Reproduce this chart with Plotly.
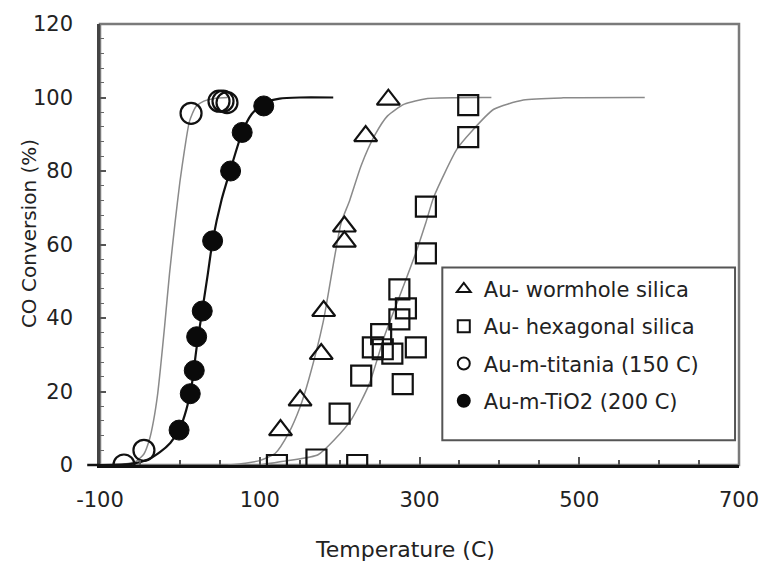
import plotly.graph_objects as go

# ---- data ----
tri_x = [126, 150.5, 177, 180, 206, 206, 232.6, 261]
tri_y = [9.5, 17.6, 30.2, 41.9, 60.8, 64.9, 89.5, 99.4]

sq_x = [121.5, 171, 222, 200, 227, 241.6, 254, 252, 266, 279, 274.8, 283, 274.8, 295.4, 308, 308, 361, 361]
sq_y = [0, 1.5, 0, 14, 24.3, 32, 31.5, 35.6, 30.3, 22, 47.8, 42.6, 39.6, 32, 57.6, 70.3, 89.2, 97.9]

oc_x = [-70, -45, 14, 49, 54, 59]
oc_y = [0, 4, 95.7, 99, 99, 98.6]

fc_x = [-1, 13, 18, 21, 28, 41, 63.5, 78, 105]
fc_y = [9.5, 19.4, 25.7, 34.9, 41.9, 61, 80, 90.5, 97.7]

# fitted curves
tri_fit_x = [60, 82, 100, 119.5, 136, 150.5, 161, 179.5, 194, 202, 212.6, 227, 243.7, 260, 281, 310, 390]
tri_fit_y = [0, 0.5, 1.2, 3.2, 8.6, 15.8, 23, 39, 57, 66, 72, 81.5, 89.6, 95, 98.2, 99.7, 100]

sq_fit_x = [100, 136, 173, 194, 215, 237, 256, 277, 295, 308, 318, 347, 364, 393, 430, 480, 582]
sq_fit_y = [0, 1.2, 2.8, 7, 12.5, 22, 35, 47, 57.5, 66, 73, 86, 90.5, 96.8, 99.3, 99.9, 100]

oc_fit_x = [-100, -70, -55, -45, -38, -33, -28, -24, -19, -13, -6, 0, 6, 12, 20, 30, 45, 60]
oc_fit_y = [0, 0.3, 1, 3, 7, 12, 19, 27, 38, 52, 66, 77, 86, 93.5, 97.5, 99, 99.8, 100]

fc_fit_x = [-100, -60, -40, -25, -12, 0, 8, 15, 21, 28, 35, 41, 52, 63.5, 78, 90, 105, 125, 150, 192]
fc_fit_y = [0, 0.3, 1.5, 3.5, 6, 10, 15, 22, 32, 42, 52, 61, 72, 80.5, 90.5, 95.5, 98.5, 99.7, 100, 100]

names = ["Au- wormhole silica", "Au- hexagonal silica", "Au-m-titania (150 C)", "Au-m-TiO2 (200 C)"]

x_ticks = [-100, 100, 300, 500, 700]
y_ticks = [0, 20, 40, 60, 80, 100, 120]

FONT = "DejaVu Sans"
TXT = "#222222"

fig = go.Figure()

# fit lines
fig.add_trace(go.Scatter(x=oc_fit_x, y=oc_fit_y, mode="lines", line=dict(color="#8a8a8a", width=1.5, shape="spline", smoothing=0.6), showlegend=False, hoverinfo="skip"))
fig.add_trace(go.Scatter(x=fc_fit_x, y=fc_fit_y, mode="lines", line=dict(color="#111111", width=2.2, shape="spline", smoothing=0.6), showlegend=False, hoverinfo="skip"))
fig.add_trace(go.Scatter(x=tri_fit_x, y=tri_fit_y, mode="lines", line=dict(color="#8a8a8a", width=1.5, shape="spline", smoothing=0.6), showlegend=False, hoverinfo="skip"))
fig.add_trace(go.Scatter(x=sq_fit_x, y=sq_fit_y, mode="lines", line=dict(color="#8a8a8a", width=1.5, shape="spline", smoothing=0.6), showlegend=False, hoverinfo="skip"))

# markers
fig.add_trace(go.Scatter(x=tri_x, y=tri_y, mode="markers", name=names[0], legendgroup="a",
                         marker=dict(symbol="triangle-up-open", size=20, color="#111111", line=dict(width=2.2))))
fig.add_trace(go.Scatter(x=sq_x, y=sq_y, mode="markers", name=names[1], legendgroup="b",
                         marker=dict(symbol="square-open", size=20, color="#111111", line=dict(width=2.2))))
fig.add_trace(go.Scatter(x=oc_x, y=oc_y, mode="markers", name=names[2], legendgroup="c",
                         marker=dict(symbol="circle-open", size=21, color="#111111", line=dict(width=2.2))))
fig.add_trace(go.Scatter(x=fc_x, y=fc_y, mode="markers", name=names[3], legendgroup="d",
                         marker=dict(symbol="circle", size=20, color="#0a0a0a", line=dict(width=1, color="#0a0a0a"))))

fig.update_layout(
    width=771, height=567,
    margin=dict(l=100, r=27, t=21, b=102),
    paper_bgcolor="white", plot_bgcolor="white",
    font=dict(family=FONT, size=20, color=TXT),
    legend=dict(x=0.538, y=0.445, xanchor="left", yanchor="top",
                bgcolor="rgba(0,0,0,0)", borderwidth=0,
                font=dict(family=FONT, size=21, color=TXT),
                traceorder="grouped", tracegroupgap=7, itemsizing="constant"),
    xaxis=dict(range=[-100, 700], tickmode="array", tickvals=x_ticks, ticktext=[str(v) for v in x_ticks],
               ticks="inside", ticklen=8, tickwidth=1.5, tickcolor="#555",
               minor=dict(dtick=50, tick0=-100, ticks="inside", ticklen=5, tickwidth=1.5, tickcolor="#555"),
               showgrid=False, zeroline=False, showline=True, linecolor="#111", linewidth=2.5,
               ticklabelstandoff=14, tickfont=dict(family=FONT, size=21, color=TXT)),
    yaxis=dict(range=[0, 120], tickmode="array", tickvals=y_ticks, ticktext=[str(v) for v in y_ticks],
               ticks="inside", ticklen=6, tickwidth=1.5, tickcolor="#555",
               minor=dict(dtick=4, tick0=0, ticks="inside", ticklen=4, tickwidth=1.2, tickcolor="#666"),
               showgrid=False, zeroline=False, showline=True, linecolor="#444", linewidth=2.5,
               ticklabelstandoff=20, tickfont=dict(family=FONT, size=21, color=TXT)),
    shapes=[
        dict(type="rect", xref="x domain", yref="y domain", x0=0, x1=1, y0=0, y1=1,
             line=dict(color="#7a7a7a", width=2.5), layer="below"),
        dict(type="line", xref="x domain", yref="y domain", x0=-0.02, x1=0, y0=0, y1=0,
             line=dict(color="#111", width=2.5)),
        dict(type="rect", xref="x domain", yref="y domain", x0=0.5357, x1=0.9938, y0=0.0563, y1=0.448,
             line=dict(color="#555", width=2), fillcolor="rgba(0,0,0,0)"),
    ],
    annotations=[
        dict(text="Temperature (C)", xref="x domain", yref="y domain", x=0.4767, y=-0.191,
             xanchor="center", yanchor="middle", showarrow=False, font=dict(family=FONT, size=22, color=TXT)),
        dict(text="CO Conversion (%)", xref="x domain", yref="y domain", x=-0.1118, y=0.5248,
             xanchor="center", yanchor="middle", textangle=-90, showarrow=False,
             font=dict(family=FONT, size=20, color=TXT)),
    ],
)

fig.write_html("out.html", config={"displayModeBar": False},
               post_script="document.body.style.margin='0';")
